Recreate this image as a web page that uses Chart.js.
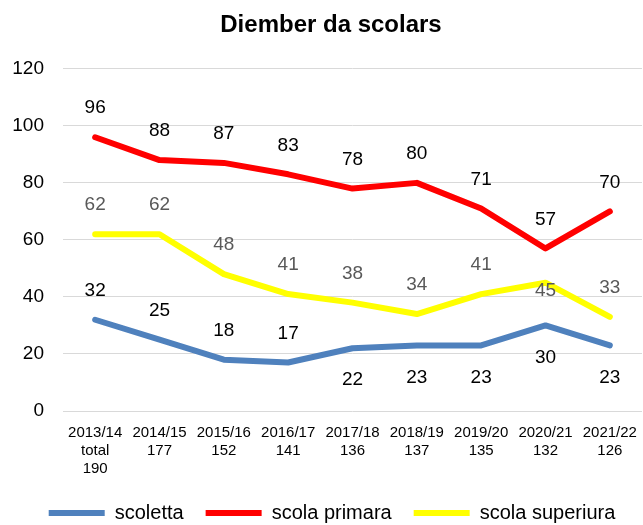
<!DOCTYPE html>
<html>
<head>
<meta charset="utf-8">
<script src="https://cdn.jsdelivr.net/npm/chart.js@4/dist/chart.umd.min.js"></script>
<style>
  html, body { margin: 0; padding: 0; background: #fff; }
  #wrap { width: 643px; height: 525px; }
</style>
</head>
<body>
<div id="wrap"><canvas id="c" width="643" height="525"></canvas></div>
<script>
const years = ["2013/14", "2014/15", "2015/16", "2016/17", "2017/18", "2018/19", "2019/20", "2020/21", "2021/22"];
const totals = ["190", "177", "152", "141", "136", "137", "135", "132", "126"];
const scoletta = [32, 25, 18, 17, 22, 23, 23, 30, 23];
const scolaPrimara = [96, 88, 87, 83, 78, 80, 71, 57, 70];
const scolaSuperiura = [62, 62, 48, 41, 38, 34, 41, 45, 33];
const yTicks = [0, 20, 40, 60, 80, 100, 120];

// label placement per point: 'a' above, 'b' below, 'c' centre
const posScoletta = ['a', 'a', 'a', 'a', 'b', 'b', 'b', 'b', 'b'];
const posPrimara = ['a', 'a', 'a', 'a', 'a', 'a', 'a', 'a', 'a'];
const posSuperiura = ['a', 'a', 'a', 'a', 'a', 'a', 'a', 'c', 'a'];

const labels = years.map((y, i) => i === 0 ? [y, 'total', totals[i]] : [y, totals[i]]);
const FONT = "'Liberation Sans', Arial, sans-serif";

const dataLabelPlugin = {
  id: 'dataLabels',
  afterLayout(chart) {
    if (chart.legend) { chart.legend.left += 11; chart.legend.right += 11; }
    if (chart.titleBlock) { chart.titleBlock.left += 10; chart.titleBlock.right += 10; }
  },
  afterDatasetsDraw(chart) {
    const ctx = chart.ctx;
    ctx.save();
    ctx.font = "19px " + FONT;
    ctx.textAlign = 'center';
    ctx.textBaseline = 'middle';
    chart.data.datasets.forEach((ds, di) => {
      const meta = chart.getDatasetMeta(di);
      meta.data.forEach((pt, i) => {
        const p = ds.labelPos[i];
        let dy = p === 'a' ? -29 : (p === 'b' ? 32 : 8);
        ctx.fillStyle = ds.labelColor;
        ctx.fillText(String(ds.data[i]), pt.x, pt.y + dy);
      });
    });
    ctx.restore();
  }
};

new Chart(document.getElementById('c'), {
  type: 'line',
  data: {
    labels: labels,
    datasets: [
      { label: 'scoletta', data: scoletta, borderColor: '#4F81BD', backgroundColor: '#4F81BD',
        labelColor: '#000000', labelPos: posScoletta },
      { label: 'scola primara', data: scolaPrimara, borderColor: '#FF0000', backgroundColor: '#FF0000',
        labelColor: '#000000', labelPos: posPrimara },
      { label: 'scola superiura', data: scolaSuperiura, borderColor: '#FFFF00', backgroundColor: '#FFFF00',
        labelColor: '#595959', labelPos: posSuperiura }
    ].map(d => Object.assign(d, {
      borderWidth: 6, pointRadius: 0, pointHoverRadius: 0, tension: 0,
      borderCapStyle: 'round', borderJoinStyle: 'round', fill: false
    }))
  },
  options: {
    responsive: false,
    animation: false,
    devicePixelRatio: 1,
    layout: { padding: { left: 0, right: 1, top: 0, bottom: -8 } },
    plugins: {
      tooltip: { enabled: false },
      title: {
        display: true,
        text: 'Diember da scolars',
        color: '#000000',
        font: { family: FONT, size: 24, weight: 'bold' },
        padding: { top: 11, bottom: 29 }
      },
      legend: {
        position: 'bottom',
        labels: {
          usePointStyle: true,
          pointStyle: 'line',
          pointStyleWidth: 56,
          color: '#000000',
          font: { family: FONT, size: 20 },
          padding: 22
        }
      }
    },
    scales: {
      x: {
        offset: true,
        grid: { display: false, drawTicks: false },
        border: { display: false },
        ticks: {
          color: '#000000', font: { family: FONT, size: 15 }, padding: 13,
          maxRotation: 0, minRotation: 0, autoSkip: false
        },
        afterFit(scale) { scale.height = 70; scale.paddingLeft = 0; scale.paddingRight = 0; }
      },
      y: {
        min: 0, max: 120,
        afterBuildTicks(scale) { scale.ticks = yTicks.map(v => ({ value: v })); },
        grid: { color: '#D9D9D9', lineWidth: 1, drawTicks: false },
        border: { display: false },
        ticks: { color: '#000000', font: { family: FONT, size: 19 }, padding: 19 },
        afterFit(scale) { scale.width = 63; }
      }
    }
  },
  plugins: [dataLabelPlugin]
});
</script>
</body>
</html>
